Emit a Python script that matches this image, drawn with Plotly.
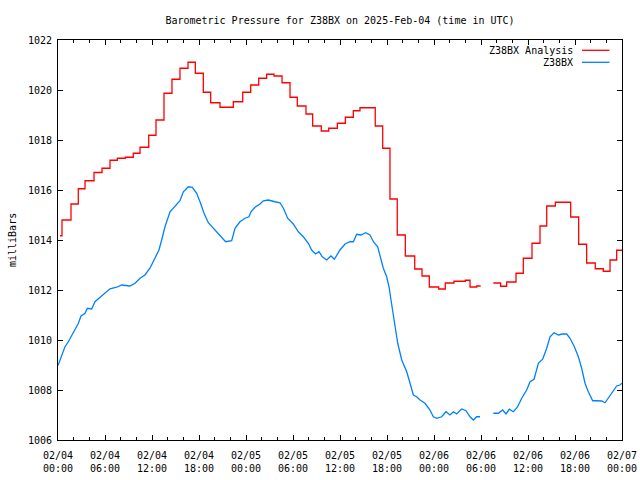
import plotly.graph_objects as go
import pandas as pd

# ---------------- data (hours after 2025-02-04 00:00 UTC) ----------------
red_hours = [0.26, 0.51, 1.66, 2.59, 3.45, 4.6, 5.62, 6.64, 7.57, 8.59, 9.61, 10.47,
             11.58, 12.51, 13.53, 14.55, 15.57, 16.6, 17.53, 18.55, 19.49, 20.68, 22.38,
             23.58, 24.6, 25.62, 26.64, 27.58, 28.6, 29.62, 30.55, 31.66, 32.51, 33.61,
             34.56, 35.66, 36.68, 37.7, 38.55, 40.5, 41.45, 42.38, 43.31, 44.34, 45.54,
             46.47, 47.4, 48.6, 49.44, 50.55, 52.0, 52.6, 53.45, 53.96, 54.5, 55.57,
             56.5, 57.28, 58.47, 59.4, 60.51, 61.53, 62.39, 63.49, 65.45, 66.47, 67.49,
             68.59, 69.61, 70.47, 71.32, 72.0]
red_values = [1014.17, 1014.8, 1015.44, 1016.05, 1016.37, 1016.7, 1016.87, 1017.19,
              1017.27, 1017.31, 1017.47, 1017.71, 1018.19, 1018.8, 1019.87, 1020.43,
              1020.87, 1021.11, 1020.67, 1019.91, 1019.49, 1019.31, 1019.53, 1019.91,
              1020.2, 1020.47, 1020.63, 1020.56, 1020.29, 1019.71, 1019.36, 1019.04,
              1018.56, 1018.36, 1018.47, 1018.67, 1018.91, 1019.17, 1019.29, 1018.56,
              1017.67, 1015.64, 1014.2, 1013.36, 1012.84, 1012.56, 1012.12, 1012.04,
              1012.28, 1012.35, 1012.39, 1012.12, 1012.16, 1012.16, None, 1012.28,
              1012.15, 1012.32, 1012.67, 1013.27, 1013.87, 1014.56, 1015.36, 1015.51,
              1014.92, 1013.83, 1013.08, 1012.85, 1012.75, 1013.2, 1013.59, 1013.59]

blue_hours = [0.0, 0.89, 1.32, 1.96, 2.6, 2.94, 3.45, 3.75, 4.3, 4.72, 5.36, 6.0, 6.64,
              7.49, 8.13, 9.19, 9.83, 10.47, 11.1, 11.74, 12.38, 12.89, 13.23, 13.66,
              14.3, 14.94, 15.57, 16.0, 16.64, 17.15, 17.7, 18.2, 18.64, 19.19, 19.83,
              20.38, 20.89, 21.4, 22.17, 22.6, 23.23, 23.87, 24.38, 24.64, 25.15, 25.79,
              26.21, 26.85, 27.7, 28.34, 28.77, 29.32, 30.04, 30.68, 31.32, 31.96, 32.38,
              32.89, 33.32, 33.74, 34.3, 34.85, 35.28, 36.0, 36.64, 37.28, 37.7, 38.13,
              38.68, 39.28, 39.83, 40.26, 40.81, 41.11, 41.53, 41.96, 42.26, 42.51, 42.81,
              43.11, 43.37, 43.88, 44.52, 44.94, 45.36, 45.79, 46.21, 46.85, 47.49, 47.91,
              48.34, 48.98, 49.53, 50.04, 50.47, 50.9, 51.53, 52.09, 52.6, 53.02, 53.45,
              53.87, 54.5, 55.57, 56.21, 56.77, 57.19, 57.62, 58.13, 58.64, 59.2, 59.83,
              60.26, 60.77, 61.32, 61.87, 62.39, 62.81, 63.32, 63.87, 64.38, 64.94, 65.36,
              65.92, 66.43, 66.85, 67.28, 67.7, 68.26, 68.77, 69.41, 69.83, 70.47, 70.98,
              71.32, 71.74, 72.0]
blue_values = [1008.98, 1009.73, 1009.93, 1010.33, 1010.67, 1010.96, 1011.07, 1011.27,
               1011.24, 1011.53, 1011.71, 1011.89, 1012.05, 1012.11, 1012.2, 1012.16,
               1012.27, 1012.47, 1012.6, 1012.87, 1013.27, 1013.6, 1014.0, 1014.53,
               1015.13, 1015.37, 1015.57, 1015.93, 1016.13, 1016.11, 1015.87, 1015.47,
               1015.07, 1014.69, 1014.47, 1014.27, 1014.07, 1013.93, 1013.97, 1014.47,
               1014.73, 1014.87, 1014.93, 1015.13, 1015.31, 1015.44, 1015.57, 1015.6,
               1015.53, 1015.49, 1015.27, 1014.87, 1014.64, 1014.33, 1014.13, 1013.87,
               1013.6, 1013.44, 1013.53, 1013.33, 1013.2, 1013.36, 1013.23, 1013.6,
               1013.84, 1013.93, 1013.93, 1014.23, 1014.2, 1014.29, 1014.2, 1013.93,
               1013.73, 1013.33, 1012.87, 1012.53, 1012.13, 1011.6, 1010.93, 1010.4,
               1009.87, 1009.2, 1008.73, 1008.27, 1007.8, 1007.73, 1007.6, 1007.47,
               1007.2, 1006.93, 1006.87, 1006.93, 1007.13, 1007.0, 1007.13, 1007.04,
               1007.24, 1007.17, 1006.93, 1006.8, 1006.93, 1006.93, None, 1007.07,
               1007.07, 1007.2, 1007.04, 1007.23, 1007.13, 1007.31, 1007.67, 1008.0,
               1008.33, 1008.43, 1009.07, 1009.23, 1009.67, 1010.13, 1010.29, 1010.2,
               1010.24, 1010.24, 1010.07, 1009.73, 1009.33, 1008.87, 1008.27, 1007.93,
               1007.57, 1007.57, 1007.56, 1007.49, 1007.8, 1008.03, 1008.16, 1008.2,
               1008.27]

series_names = ["Z38BX Analysis", "Z38BX"]
series_colors = ["#ff0000", "#0080ff"]

title_text = "Barometric Pressure for Z38BX on 2025-Feb-04 (time in UTC)"
y_label = "milliBars"
x_start = "2025-02-04 00:00"
x_end = "2025-02-07 00:00"
y_min, y_max, y_step = 1006, 1022, 2

# ---------------- build figure ----------------
base = pd.Timestamp(x_start)


def to_times(hours):
    return [(base + pd.Timedelta(hours=h)).strftime("%Y-%m-%d %H:%M:%S") for h in hours]


FONT = "DejaVu Sans Mono"

fig = go.Figure()
fig.add_trace(go.Scatter(
    x=to_times(red_hours), y=red_values, mode="lines", name=series_names[0],
    line=dict(color=series_colors[0], width=1.3, shape="hv"), connectgaps=False,
    showlegend=False))
fig.add_trace(go.Scatter(
    x=to_times(blue_hours), y=blue_values, mode="lines", name=series_names[1],
    line=dict(color=series_colors[1], width=1.3), connectgaps=False,
    showlegend=False))

fig.update_layout(
    width=640, height=480,
    margin=dict(l=58, r=18, t=40, b=40),
    paper_bgcolor="white", plot_bgcolor="white",
    font=dict(family=FONT, size=10, color="black"),
    title=dict(text=title_text, x=340 / 640, xanchor="center", y=1 - 20 / 480,
               yanchor="middle", font=dict(family=FONT, size=10, color="black")),
    xaxis=dict(
        type="date", range=[x_start, x_end], automargin=False,
        dtick=6 * 3600 * 1000, tick0=x_start, tickformat="%m/%d<br>%H:%M",
        ticks="inside", ticklen=5, tickcolor="black", tickwidth=1,
        ticklabelstandoff=6,
        minor=dict(dtick=2 * 3600 * 1000, ticks="inside", ticklen=3,
                   tickcolor="black", showgrid=False),
        showline=True, linecolor="black", linewidth=1, mirror="allticks",
        showgrid=False, zeroline=False,
        tickfont=dict(family=FONT, size=10, color="black"),
    ),
    yaxis=dict(
        range=[y_min, y_max], dtick=y_step, tick0=y_min, automargin=False,
        ticks="inside", ticklen=5, tickcolor="black", tickwidth=1,
        ticklabelstandoff=3,
        showline=True, linecolor="black", linewidth=1, mirror="allticks",
        showgrid=False, zeroline=False,
        tickfont=dict(family=FONT, size=10, color="black"),
    ),
)

# y-axis label
fig.add_annotation(text=y_label, xref="paper", yref="paper",
                   x=(12 - 58) / 564, y=0.5, textangle=-90, showarrow=False,
                   xanchor="center", yanchor="middle",
                   font=dict(family=FONT, size=10, color="black"))

# key (gnuplot style: text right-aligned, sample line to the right)
key_rows_y = [50.3, 62.3]
for name, color, ypx in zip(series_names, series_colors, key_rows_y):
    yp = (440 - ypx) / 400
    fig.add_annotation(text=name, xref="paper", yref="paper",
                       x=(575 - 58) / 564, y=yp, showarrow=False,
                       xanchor="right", yanchor="middle",
                       font=dict(family=FONT, size=10, color="black"))
    fig.add_shape(type="line", xref="paper", yref="paper",
                  x0=(582 - 58) / 564, x1=(609.5 - 58) / 564, y0=yp, y1=yp,
                  line=dict(color=color, width=1.3))

fig.write_html("out.html")
